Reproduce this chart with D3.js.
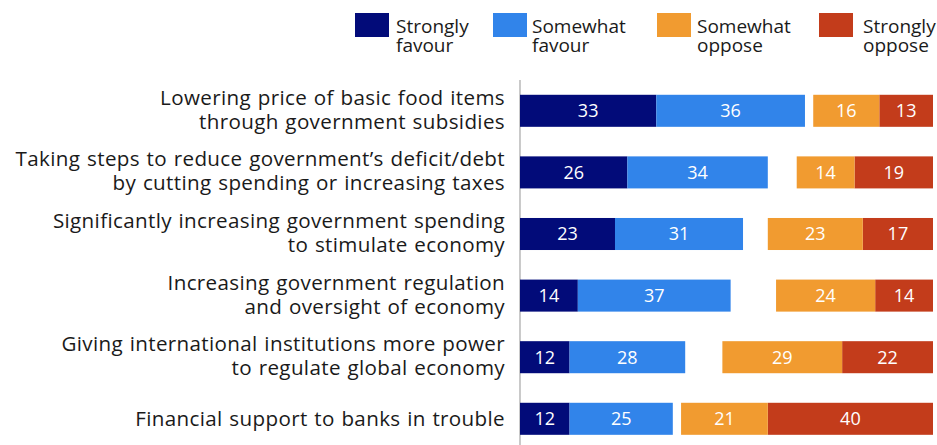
<!DOCTYPE html>
<html>
<head>
<meta charset="utf-8">
<script src="https://cdn.jsdelivr.net/npm/d3@7"></script>
<style>
  html, body { margin: 0; padding: 0; background: #fff; }
  svg { display: block; }
  text { font-family: "Open Sans", "Noto Sans", sans-serif; }
</style>
</head>
<body>
<svg id="chart" width="937" height="445"></svg>
<script>
// Survey items (each label split into its display lines)
const categories = [
  ["Lowering price of basic food items", "through government subsidies"],
  ["Taking steps to reduce government\u2019s deficit/debt", "by cutting spending or increasing taxes"],
  ["Significantly increasing government spending", "to stimulate economy"],
  ["Increasing government regulation", "and oversight of economy"],
  ["Giving international institutions more power", "to regulate global economy"],
  ["Financial support to banks in trouble"]
];

const seriesNames = ["Strongly favour", "Somewhat favour", "Somewhat oppose", "Strongly oppose"];
const legendLines = [["Strongly", "favour"], ["Somewhat", "favour"], ["Somewhat", "oppose"], ["Strongly", "oppose"]];

const stronglyFavour = [33, 26, 23, 14, 12, 12];
const somewhatFavour = [36, 34, 31, 37, 28, 25];
const somewhatOppose = [16, 14, 23, 24, 29, 21];
const stronglyOppose = [13, 19, 17, 14, 22, 40];

const colors = ["#020b79", "#3184ea", "#f19b30", "#c33c1b"];

const svg = d3.select("#chart");

const x = d3.scaleLinear().domain([0, 100]).range([520, 933]);
const keys = categories.map((c, i) => i);
const y = d3.scaleBand().domain(keys).range([80, 449.6]).paddingInner(0.48).paddingOuter(0.24);

// Favour stacks grow from the axis; oppose stacks end at the right edge
const segments = [];
keys.forEach(i => {
  const sf = stronglyFavour[i], wf = somewhatFavour[i];
  const wo = somewhatOppose[i], so = stronglyOppose[i];
  segments.push({ row: i, s: 0, x0: 0, x1: sf, v: sf });
  segments.push({ row: i, s: 1, x0: sf, x1: sf + wf, v: wf });
  segments.push({ row: i, s: 3, x0: 100 - so, x1: 100, v: so });
  segments.push({ row: i, s: 2, x0: 100 - so - wo, x1: 100 - so, v: wo });
});

// Vertical axis line
svg.append("line")
  .attr("x1", x(0)).attr("x2", x(0))
  .attr("y1", 80).attr("y2", 445)
  .attr("stroke", "#a6a6a6").attr("stroke-width", 1.2);

const seg = svg.append("g").selectAll("g").data(segments).join("g");
seg.append("rect")
  .attr("x", d => x(d.x0))
  .attr("y", d => y(d.row))
  .attr("width", d => x(d.x1) - x(d.x0))
  .attr("height", y.bandwidth())
  .attr("fill", d => colors[d.s]);
seg.append("text")
  .attr("x", d => (x(d.x0) + x(d.x1)) / 2)
  .attr("y", d => y(d.row) + y.bandwidth() / 2)
  .attr("dy", "0.35em")
  .attr("text-anchor", "middle")
  .attr("fill", "#fff")
  .style("font-size", "18px")
  .text(d => d.v);

// Category labels, right-aligned next to the axis
const labels = svg.append("g").selectAll("text").data(keys).join("text")
  .attr("text-anchor", "end")
  .attr("fill", "#1a1a1a")
  .style("font-size", "20.6px")
  .style("letter-spacing", "0.35px")
  .style("word-spacing", "1px");
labels.each(function (i) {
  const lines = categories[i];
  const cy = y(i) + y.bandwidth() / 2;
  const t = d3.select(this);
  lines.forEach((ln, k) => {
    const base = lines.length === 1 ? cy + 7 : cy - 6 + k * 24;
    t.append("tspan").attr("x", 505).attr("y", base).text(ln);
  });
});

// Legend
const legendRectX = [355, 493, 657, 819];
const legendTextX = [396, 532, 697, 863];
const lg = svg.append("g").selectAll("g").data(seriesNames).join("g");
lg.append("rect")
  .attr("x", (d, i) => legendRectX[i]).attr("y", 13)
  .attr("width", 34).attr("height", 24)
  .attr("fill", (d, i) => colors[i]);
lg.append("text")
  .attr("fill", "#1a1a1a")
  .style("font-size", "19px")
  .each(function (d, i) {
    const t = d3.select(this);
    legendLines[i].forEach((ln, k) => {
      t.append("tspan").attr("x", legendTextX[i]).attr("y", 32.5 + k * 19).text(ln);
    });
  });
</script>
</body>
</html>
